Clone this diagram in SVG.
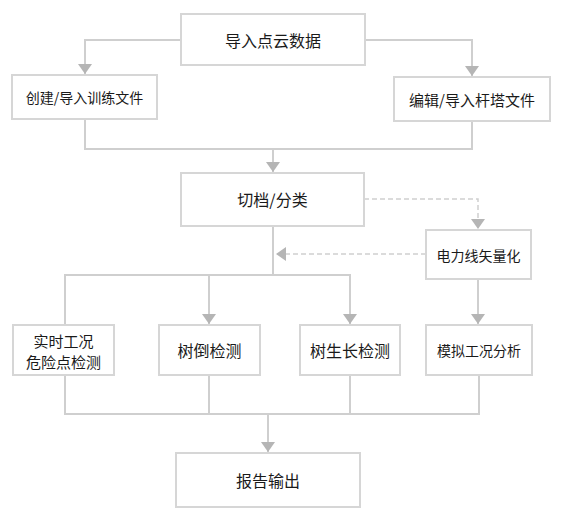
<svg xmlns="http://www.w3.org/2000/svg" width="562" height="519" viewBox="0 0 562 519">
<style>
.box{fill:#fff;stroke:#d6d6d6;stroke-width:2}
.t{font-family:"Noto Sans CJK SC","Liberation Sans",sans-serif;font-size:15px;fill:#1a1a1a;text-anchor:middle;dominant-baseline:central}
.s{font-size:14px}
.l{font-size:16px}
.ln{fill:none;stroke:#cfcfcf;stroke-width:2}
.dl{fill:none;stroke:#cfcfcf;stroke-width:1.5;stroke-dasharray:5 3}
</style>
<defs>
<marker id="ah" viewBox="0 0 10 14" refX="10" refY="7" markerWidth="10" markerHeight="14" markerUnits="userSpaceOnUse" orient="auto">
<path d="M0,0 L10,7 L0,14 Z" fill="#b5b5b5"/>
</marker>
</defs>
<rect width="562" height="519" fill="#fff"/>
<g id="connectors">
<path class="ln" d="M181,40 H85 V74" marker-end="url(#ah)"/>
<path class="ln" d="M365,40 H472 V76" marker-end="url(#ah)"/>
<path class="ln" d="M85,119 V149 H472 V121"/>
<path class="ln" d="M273,149 V172" marker-end="url(#ah)"/>
<path class="dl" d="M364,199 H478 V229" marker-end="url(#ah)"/>
<path class="dl" d="M426,254 H276" marker-end="url(#ah)"/>
<path class="ln" d="M273,226 V275"/>
<path class="ln" d="M65,324 V275 H350 V324" marker-end="url(#ah)"/>
<path class="ln" d="M209,275 V324" marker-end="url(#ah)"/>
<path class="ln" d="M478,279 V324" marker-end="url(#ah)"/>
<path class="ln" d="M65,375 V414 H479 V375"/>
<path class="ln" d="M209,375 V414"/>
<path class="ln" d="M350,375 V414"/>
<path class="ln" d="M268,414 V452" marker-end="url(#ah)"/>
</g>
<g id="n1"><rect class="box" x="181" y="14" width="184" height="51"/><text class="t l" x="273" y="40">导入点云数据</text></g>
<g id="n2"><rect class="box" x="12" y="75" width="145" height="44"/><text class="t s" x="84.5" y="97">创建/导入训练文件</text></g>
<g id="n3"><rect class="box" x="394" y="77" width="156" height="44"/><text class="t" x="472" y="99">编辑/导入杆塔文件</text></g>
<g id="n4"><rect class="box" x="181" y="173" width="183" height="53"/><text class="t l" x="272.5" y="199">切档/分类</text></g>
<g id="n5"><rect class="box" x="426" y="230" width="105" height="49"/><text class="t s" x="478.5" y="254.5">电力线矢量化</text></g>
<g id="n6"><rect class="box" x="13" y="325" width="101" height="50"/><text class="t" x="63.5" y="340">实时工况</text><text class="t" x="63.5" y="361">危险点检测</text></g>
<g id="n7"><rect class="box" x="159" y="325" width="101" height="50"/><text class="t l" x="209.5" y="350">树倒检测</text></g>
<g id="n8"><rect class="box" x="300" y="325" width="100" height="50"/><text class="t l" x="350" y="350">树生长检测</text></g>
<g id="n9"><rect class="box" x="426" y="325" width="106" height="50"/><text class="t s" x="479" y="350">模拟工况分析</text></g>
<g id="n10"><rect class="box" x="176" y="453" width="184" height="54"/><text class="t l" x="268" y="480">报告输出</text></g>
</svg>
